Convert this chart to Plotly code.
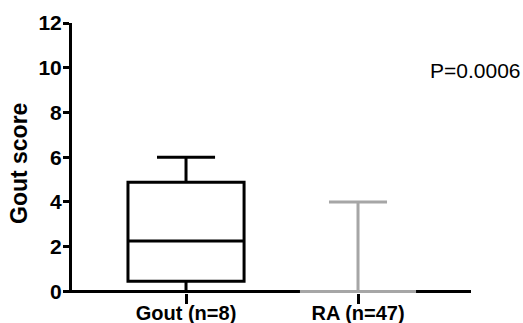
import plotly.graph_objects as go

categories = ["Gout (n=8)", "RA (n=47)"]
q1 = [0.45, 0.0]
median = [2.25, 0.0]
q3 = [4.88, 0.0]
lower = [0.0, 0.0]
upper = [6.0, 4.0]
colors = ["#000000", "#a6a6a6"]
y_ticks = [0, 2, 4, 6, 8, 10, 12]
p_text = "P=0.0006"
y_title = "Gout score"

fig = go.Figure()
for i, cat in enumerate(categories):
    fig.add_trace(go.Box(
        x=[i], q1=[q1[i]], median=[median[i]], q3=[q3[i]],
        lowerfence=[lower[i]], upperfence=[upper[i]],
        width=0.675, whiskerwidth=0.5,
        line=dict(color=colors[i], width=3),
        fillcolor="rgba(0,0,0,0)",
        boxpoints=False, showlegend=False, hoverinfo="skip",
    ))

font = "Liberation Sans, Arial, sans-serif"
L, R, T, B = 72, 52, 23, 30
W, H = 523, 323
pw, ph = W - L - R, H - T - B

def px_x(x):
    return (x - L) / pw

def px_y(y):
    return (H - B - y) / ph

fig.update_layout(
    width=W, height=H,
    margin=dict(l=L, r=R, t=T, b=B, autoexpand=False),
    plot_bgcolor="white", paper_bgcolor="white",
    font=dict(family=font, color="black"),
    xaxis=dict(
        range=[-0.663, 1.657], tickmode="array", tickvals=[0, 1], ticktext=categories,
        showline=False, showgrid=False, zeroline=False,
        ticks="outside", ticklen=10, tickwidth=3, tickcolor="black",
        tickfont=dict(size=20, family=font, weight="bold"), automargin=False,
        ticklabelstandoff=-8,
    ),
    yaxis=dict(
        range=[-0.07, 12], tickmode="array", tickvals=y_ticks,
        showline=True, linecolor="black", linewidth=3, showgrid=False,
        zeroline=True, zerolinecolor="black", zerolinewidth=3,
        ticks="outside", ticklen=6, tickwidth=3, tickcolor="black",
        tickfont=dict(size=21, family=font, weight="bold"), automargin=False,
        ticklabelstandoff=-3,
        layer="below traces",
    ),
    annotations=[
        dict(text=p_text, x=px_x(475), y=px_y(70), xref="paper", yref="paper",
             showarrow=False, xanchor="center", yanchor="middle",
             font=dict(size=21, family=font, color="black")),
        dict(text=y_title, x=px_x(19), y=px_y(164), xref="paper", yref="paper",
             showarrow=False, xanchor="center", yanchor="middle", textangle=-90,
             font=dict(size=23, family=font, color="black", weight="bold")),
    ],
)
fig.write_html("out.html", config={"displayModeBar": False},
               post_script="document.body.style.margin='0';")
